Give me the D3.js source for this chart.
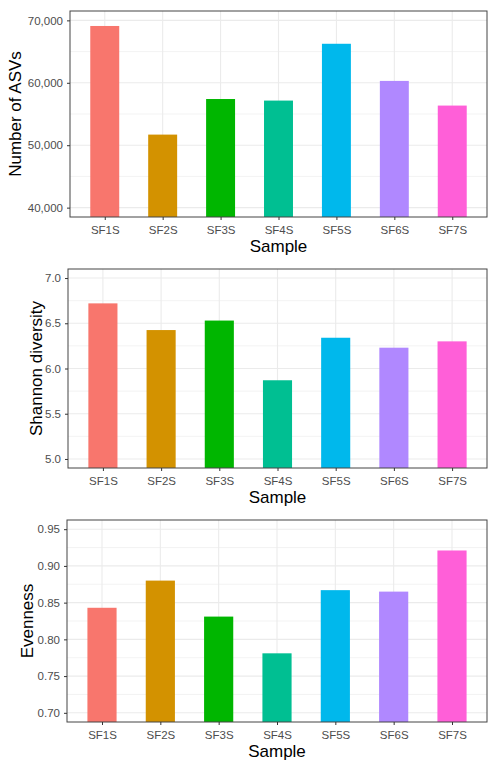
<!DOCTYPE html>
<html>
<head>
<meta charset="utf-8">
<script src="https://cdn.jsdelivr.net/npm/d3@7"></script>
<style>
  body { margin: 0; background: #fff; }
  svg { display: block; font-family: "Liberation Sans", Arial, sans-serif; }
</style>
</head>
<body>
<svg width="496" height="767"></svg>
<script>
const samples = ["SF1S", "SF2S", "SF3S", "SF4S", "SF5S", "SF6S", "SF7S"];
const barColors = ["#F8766D", "#D39200", "#00B600", "#00BF92", "#00B8EC", "#B088FF", "#FF5FD8"];

const asvs = [69100, 51700, 57400, 57150, 66250, 60300, 56350];
const shannon = [6.72, 6.425, 6.53, 5.87, 6.34, 6.23, 6.30];
const evenness = [0.843, 0.880, 0.831, 0.781, 0.867, 0.865, 0.921];

const asvTicks = [40000, 50000, 60000, 70000];
const shannonTicks = [5.0, 5.5, 6.0, 6.5, 7.0];
const evenTicks = [0.70, 0.75, 0.80, 0.85, 0.90, 0.95];

const svg = d3.select("svg");

// one ggplot-ish theme_bw panel
function panel(cfg) {
  const { values, ticks, fmt, title, left, top, right, bottom, titleX } = cfg;
  const g = svg.append("g");

  const lo = ticks[0], hi = ticks[ticks.length - 1];
  const pad = (hi - lo) * 0.05;
  const y = d3.scaleLinear().domain([lo - pad, hi + pad]).range([bottom, top]);
  const x = d3.scalePoint().domain(samples).range([left, right]).padding(0.6);
  const bw = x.step() * 0.5;

  // minor grid
  const step = ticks[1] - ticks[0];
  const minors = [];
  for (let i = 0; i < ticks.length - 1; i++) minors.push(ticks[i] + step / 2);
  g.selectAll(".minor").data(minors).join("line")
    .attr("x1", left).attr("x2", right)
    .attr("y1", d => y(d)).attr("y2", d => y(d))
    .attr("stroke", "#EBEBEB").attr("stroke-width", 0.6);

  // major grid
  g.selectAll(".hmaj").data(ticks).join("line")
    .attr("x1", left).attr("x2", right)
    .attr("y1", d => y(d)).attr("y2", d => y(d))
    .attr("stroke", "#EBEBEB").attr("stroke-width", 1.1);
  g.selectAll(".vmaj").data(samples).join("line")
    .attr("x1", d => x(d)).attr("x2", d => x(d))
    .attr("y1", top).attr("y2", bottom)
    .attr("stroke", "#EBEBEB").attr("stroke-width", 1.1);

  // bars (start below the panel, so they run to the bottom edge)
  g.selectAll("rect.bar").data(values).join("rect")
    .attr("class", "bar")
    .attr("x", (d, i) => x(samples[i]) - bw / 2)
    .attr("width", bw)
    .attr("y", d => y(d))
    .attr("height", d => y.range()[0] - y(d))
    .attr("fill", (d, i) => barColors[i]);

  // border
  g.append("rect")
    .attr("x", left).attr("y", top)
    .attr("width", right - left).attr("height", bottom - top)
    .attr("fill", "none").attr("stroke", "#444").attr("stroke-width", 1);

  // y axis
  const ya = g.append("g")
    .attr("transform", `translate(${left},0)`)
    .call(d3.axisLeft(y).tickValues(ticks).tickFormat(fmt).tickSize(3).tickPadding(4));
  ya.select(".domain").remove();
  ya.selectAll("line").attr("stroke", "#333");
  ya.selectAll("text").attr("fill", "#4D4D4D").style("font-size", "11.5px")
    .style("font-family", "Liberation Sans, Arial, sans-serif");

  // x axis
  const xa = g.append("g")
    .attr("transform", `translate(0,${bottom})`)
    .call(d3.axisBottom(x).tickSize(3).tickPadding(6));
  xa.select(".domain").remove();
  xa.selectAll("line").attr("stroke", "#333");
  xa.selectAll("text").attr("fill", "#4D4D4D").style("font-size", "11.5px")
    .style("font-family", "Liberation Sans, Arial, sans-serif");

  // titles
  g.append("text")
    .attr("x", (left + right) / 2).attr("y", bottom + 35)
    .attr("text-anchor", "middle")
    .style("font-size", "17px")
    .text("Sample");

  g.append("text")
    .attr("transform", `translate(${titleX},${(top + bottom) / 2}) rotate(-90)`)
    .attr("text-anchor", "middle")
    .attr("dy", "0.35em")
    .style("font-size", "17px")
    .text(title);
}

panel({ values: asvs, ticks: asvTicks, fmt: d3.format(",d"), title: "Number of ASVs",
  left: 70, top: 11, right: 487, bottom: 217, titleX: 15 });
panel({ values: shannon, ticks: shannonTicks, fmt: d3.format(".1f"), title: "Shannon diversity",
  left: 68, top: 269, right: 487, bottom: 468, titleX: 36 });
panel({ values: evenness, ticks: evenTicks, fmt: d3.format(".2f"), title: "Evenness",
  left: 67, top: 520, right: 487, bottom: 722, titleX: 27 });
</script>
</body>
</html>
